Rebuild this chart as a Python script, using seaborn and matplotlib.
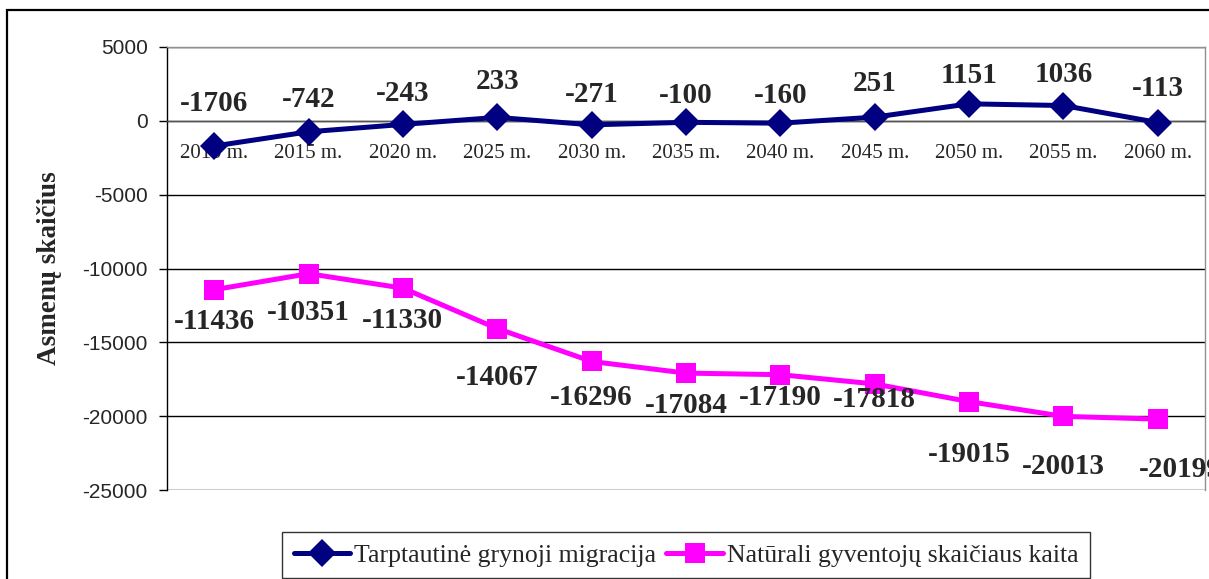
import pandas as pd
import seaborn as sns
import matplotlib.pyplot as plt
from matplotlib.patches import Rectangle
from matplotlib.lines import Line2D

# chart values
years = ['2010 m.', '2015 m.', '2020 m.', '2025 m.', '2030 m.', '2035 m.',
         '2040 m.', '2045 m.', '2050 m.', '2055 m.', '2060 m.']
migration = [-1706, -742, -243, 233, -271, -100, -160, 251, 1151, 1036, -113]
natural = [-11436, -10351, -11330, -14067, -16296, -17084, -17190, -17818,
           -19015, -20013, -20199]
series_names = ['Tarptautinė grynoji migracija',
                'Natūrali gyventojų skaičiaus kaita']
y_ticks = [5000, 0, -5000, -10000, -15000, -20000, -25000]

# label offsets in pixels (x, y) - hand placed like in the original
mig_offsets = [(0, 43), (0, 32), (0, 31), (0, 36), (0, 30), (0, 27),
               (0, 28), (0, 34), (0, 28), (0, 31), (0, 34)]
nat_offsets = [(0, -32), (0, -39), (0, -32), (0, -49), (0, -36), (0, -32),
               (0, -23), (0, -16), (0, -53), (0, -50), (22, -50)]

navy = '#000080'
magenta = '#FF00FF'

df = pd.DataFrame({'idx': range(len(years)), 'year': years,
                   'migration': migration, 'natural': natural})

sns.set_style('white')
plt.rcParams['font.family'] = ['Liberation Serif', 'DejaVu Serif']

fig = plt.figure(figsize=(12.09, 5.79), dpi=100)
ax = fig.add_axes([167 / 1209, 1 - 490 / 579, (1205 - 167) / 1209, (490 - 47) / 579])

sns.lineplot(data=df, x='idx', y='migration', ax=ax, color=navy, lw=3.6,
             marker='D', markersize=14, markeredgewidth=0, zorder=5)
sns.lineplot(data=df, x='idx', y='natural', ax=ax, color=magenta, lw=3.6,
             marker='s', markersize=15, markeredgewidth=0, zorder=5)

ax.set_xlim(-0.5, len(years) - 0.5)
ax.set_ylim(-25000, 5000)
ax.set_yticks(y_ticks)
ax.set_yticklabels([str(v) for v in y_ticks], family='Liberation Sans', fontsize=15)
ax.grid(axis='y', color='black', lw=1)
ax.set_axisbelow(True)

# x axis crosses at zero
ax.spines['bottom'].set_position(('data', 0))
ax.spines['bottom'].set_color('#555555')
ax.spines['bottom'].set_zorder(3)
ax.spines['top'].set_color('#909090')
ax.spines['right'].set_color('#909090')
ax.spines['left'].set_color('black')
for s in ax.spines.values():
    s.set_linewidth(1)

ax.set_xticks(range(len(years)))
ax.set_xticklabels(years, fontsize=15)
ax.set_xticks([i + 0.5 for i in range(len(years) - 1)], minor=True)
ax.tick_params(axis='x', which='major', length=0, pad=17)
ax.tick_params(axis='x', which='minor', length=6, width=1, color='black', direction='out')
ax.tick_params(axis='y', length=6, width=1, color='black', direction='out', left=True, pad=8)
ax.set_xlabel('')
ax.set_ylabel('')

# data labels
for i, v in enumerate(migration):
    ax.annotate(str(v), (i, v), xytext=mig_offsets[i], textcoords='offset pixels',
                ha='center', va='center', fontsize=21, fontweight='bold', zorder=6)
for i, v in enumerate(natural):
    ax.annotate(str(v), (i, v), xytext=nat_offsets[i], textcoords='offset pixels',
                ha='center', va='center', fontsize=21, fontweight='bold', zorder=6,
                annotation_clip=False)

fig.text(50 / 1209, 1 - 268 / 579, 'Asmenų skaičius', rotation=90, ha='center',
         va='center', fontsize=19.5, fontweight='bold')

handles = [Line2D([], [], color=navy, lw=3.6, marker='D', markersize=14, markeredgewidth=0),
           Line2D([], [], color=magenta, lw=3.6, marker='s', markersize=15, markeredgewidth=0)]
leg = fig.legend(handles, series_names, loc='upper center',
                 bbox_to_anchor=(686 / 1209, 1 - 532 / 579), ncol=2, fontsize=18.5,
                 frameon=True, fancybox=False, edgecolor='black', handlelength=2.2,
                 handletextpad=0.15, columnspacing=0.4, borderpad=0.45,
                 borderaxespad=0)
leg.get_frame().set_linewidth(1)

# outer chart border
fig.patches.append(Rectangle((7 / 1209, -0.1), 1.1, 1.1 - 10 / 579, transform=fig.transFigure,
                             fill=False, edgecolor='black', lw=1.6, zorder=0))

fig.savefig('out.png', dpi=100)
